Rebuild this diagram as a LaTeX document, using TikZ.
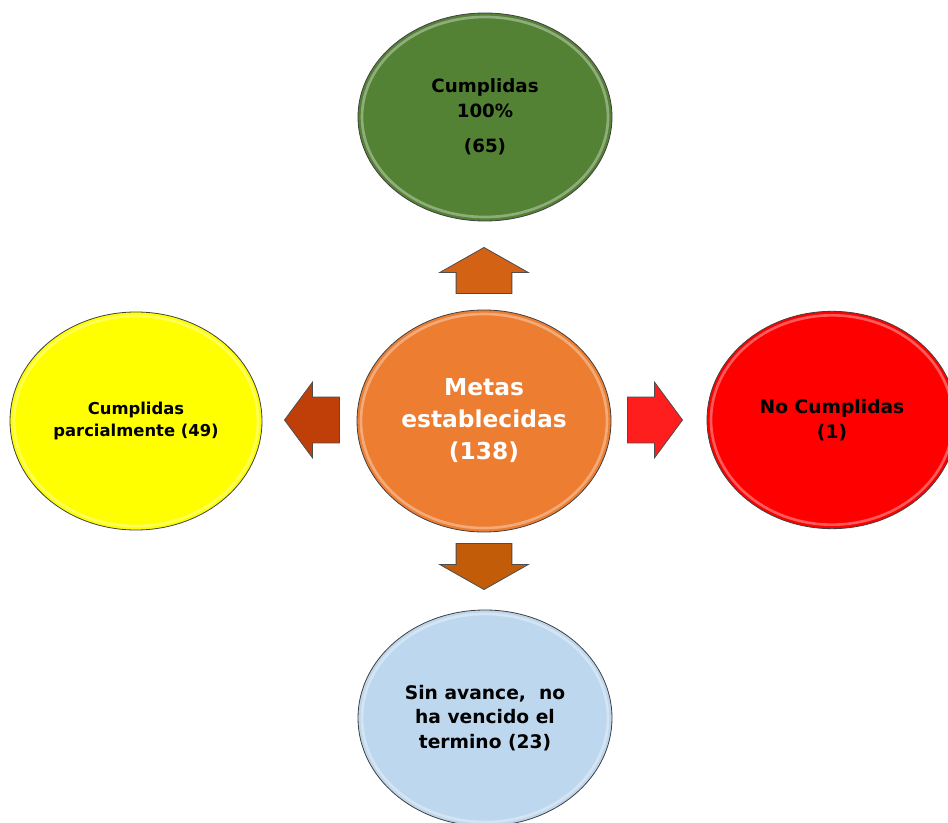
\documentclass[tikz,border=0pt]{standalone}
\usepackage{fontspec}
\setmainfont{DejaVu Sans}
\usetikzlibrary{shapes.geometric}
\usetikzlibrary{shapes.arrows}
\usetikzlibrary{calc}

\definecolor{metaorange}{RGB}{237,125,49}
\definecolor{cumplgreen}{RGB}{84,130,53}
\definecolor{parcyellow}{RGB}{255,255,0}
\definecolor{nocumred}{RGB}{255,0,0}
\definecolor{sinavblue}{RGB}{189,215,238}
\definecolor{arrorange}{RGB}{212,98,20}
\definecolor{arrrust}{RGB}{192,62,8}
\definecolor{arrred}{RGB}{255,30,30}
\definecolor{arrbrown}{RGB}{194,92,8}

\tikzset{
  goal/.style={ellipse, draw=black!75, line width=0.6pt, align=center, inner sep=0pt,
    font=\bfseries,
    path picture={
      \path[draw=white, line width=2pt, opacity=.35]
        let \p1=(path picture bounding box.north east), \p2=(path picture bounding box.center)
        in (\p2) ellipse ({\x1-\x2-3pt} and {\y1-\y2-3pt});}},
  vblock/.style={single arrow, draw=black!70, line width=0.6pt, inner xsep=20.6pt, inner ysep=0pt,
    minimum height=34.5pt, single arrow head extend=12.4pt,
    single arrow tip angle=121, anchor=tip},
  hblock/.style={single arrow, draw=black!70, line width=0.6pt, inner xsep=0pt, inner ysep=16.9pt,
    minimum height=41.25pt, single arrow head extend=11.25pt,
    single arrow tip angle=107, anchor=tip}
}

\begin{document}
\begin{tikzpicture}[x=0.75pt,y=-0.75pt]
	\useasboundingbox (0,0) rectangle (948,823);
	\fill[white] (0,0) rectangle (948,823);
	\clip (0,0) rectangle (948,823);
	
	% the five goal groups
	\node at (484,421) [goal, fill=metaorange, text=white, minimum width=190.5pt, minimum height=166.5pt,
		font=\bfseries\fontsize{17.5}{24}\selectfont] (meta) {Metas\\establecidas\\(138)};
	\node at (485,117) [goal, fill=cumplgreen, minimum width=190.5pt, minimum height=156pt,
		font=\bfseries\fontsize{13.7}{18.75}\selectfont] (cumpl) {Cumplidas\\100\%\\[7.5pt](65)};
	\node at (136,421) [goal, fill=parcyellow, minimum width=189pt, minimum height=163.5pt,
		font=\bfseries\fontsize{12.3}{16.5}\selectfont] (parc) {Cumplidas\\parcialmente (49)};
	\node at (832,420) [goal, fill=nocumred, minimum width=187.5pt, minimum height=163pt,
		font=\bfseries\fontsize{14}{18.75}\selectfont] (nocum) {No Cumplidas\\(1)};
	\node at (485,718) [goal, fill=sinavblue, minimum width=190.5pt, minimum height=162pt,
		font=\bfseries\fontsize{14}{18.4}\selectfont] (sinav) {Sin avance,\ \ no\\ha vencido el\\termino (23)};
	
	% block arrows out of the centre, placed by their tips
	\node at (484,247) [vblock, fill=arrorange, shape border rotate=90] (arrup) {};
	\node at (484,590) [vblock, fill=arrbrown, shape border rotate=270] (arrdown) {};
	\node at (284,420) [hblock, fill=arrrust, shape border rotate=180] (arrleft) {};
	\node at (683,420) [hblock, fill=arrred] (arrright) {};
	
\end{tikzpicture}
\end{document}
